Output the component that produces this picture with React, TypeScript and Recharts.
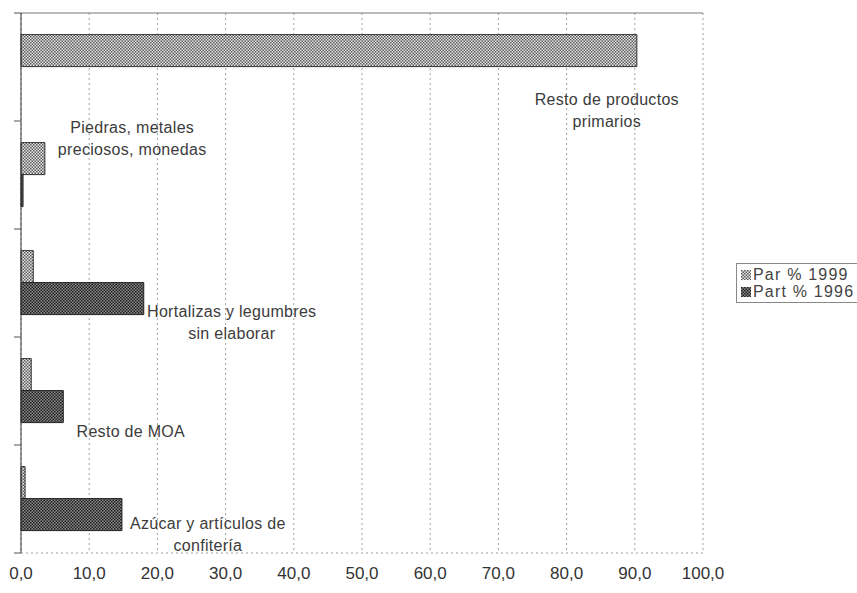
import { BarChart, Bar, XAxis, YAxis, CartesianGrid, LabelList, ReferenceLine } from 'recharts';

// categories, top to bottom
const categories = [
    'Resto de productos primarios',
    'Piedras, metales preciosos, monedas',
    'Hortalizas y legumbres sin elaborar',
    'Resto de MOA',
    'Azúcar y artículos de confitería',
];
const par1999 = [90.3, 3.5, 1.8, 1.5, 0.6];
const part1996 = [0, 0.3, 18.0, 6.2, 14.8];
const labelLines = [
    ['Resto de productos', 'primarios'],
    ['Piedras, metales', 'preciosos, monedas'],
    ['Hortalizas y legumbres', 'sin elaborar'],
    ['Resto de MOA'],
    ['Azúcar y artículos de', 'confitería'],
];
const xTicks = [0, 10, 20, 30, 40, 50, 60, 70, 80, 90, 100];

const data = categories.map((name, i) => ({ name, par: par1999[i], part: part1996[i] }));

// annotation placement: centre in axis units, baseline offset from top of the light bar
const notePlace = [
    { at: 85.9, dy: 70 },
    { at: 16.3, dy: -10 },
    { at: 30.9, dy: 66 },
    { at: 16.1, dy: 78 },
    { at: 27.4, dy: 62 },
];

const font = '"Liberation Sans", Arial, sans-serif';

const renderNote = (props: any) => {
    const { x, y, width, value } = props;
    const i = categories.indexOf(value);
    if (i < 0) return null;
    const p = notePlace[i];
    const cx = x + (p.at * width) / par1999[i];
    return (
        <text x={cx} y={y + p.dy} textAnchor="middle" fill="#3c3c3c" fontSize={16} letterSpacing={0.3} fontFamily={font}>
            {labelLines[i].map((line, k) => (
                <tspan key={k} x={cx} dy={k === 0 ? 0 : 22}>{line}</tspan>
            ))}
        </text>
    );
};

// tick marks sit on the category boundaries, not the band centres
const EdgeTick = (props: any) => {
    const { x, y, payload, index } = props;
    const half = payload && payload.offset ? payload.offset : 54;
    return (
        <g>
            <line x1={x - 7} x2={x} y1={y - half} y2={y - half} stroke="#555" />
            {index === categories.length - 1 && <line x1={x - 7} x2={x} y1={y + half} y2={y + half} stroke="#555" />}
        </g>
    );
};

export default function App() {
    return (
        <div style={{ position: 'absolute', left: 0, top: 0, width: 857, height: 593, background: '#fff', fontFamily: font }}>
            <BarChart
                width={857}
                height={593}
                data={data}
                layout="vertical"
                margin={{ top: 13, right: 154, bottom: 0, left: 20 }}
                barCategoryGap="20%"
                barGap={0}
            >
                <defs>
                    <pattern id="parPat" width="3" height="3" patternUnits="userSpaceOnUse">
                        <rect width="3" height="3" fill="#e6e6e6" />
                        <rect width="1.5" height="1.5" fill="#5a5a5a" />
                        <rect x="1.5" y="1.5" width="1.5" height="1.5" fill="#5a5a5a" />
                    </pattern>
                    <pattern id="partPat" width="3" height="3" patternUnits="userSpaceOnUse">
                        <rect width="3" height="3" fill="#8a8a8a" />
                        <rect width="1.5" height="1.5" fill="#1e1e1e" />
                        <rect x="1.5" y="1.5" width="1.5" height="1.5" fill="#1e1e1e" />
                    </pattern>
                </defs>
                <CartesianGrid horizontal={false} stroke="#a0a0a0" strokeDasharray="2 3" />
                <XAxis
                    type="number"
                    domain={[0, 100]}
                    ticks={xTicks}
                    axisLine={false}
                    tickLine={false}
                    height={40}
                    tickMargin={8}
                    tickFormatter={(v) => Number(v).toFixed(1).replace('.', ',')}
                    tick={{ fontSize: 17, fill: '#333', fontFamily: font }}
                />
                <YAxis
                    type="category"
                    dataKey="name"
                    width={1}
                    tickLine={false}
                    tickSize={0}
                    tickMargin={0}
                    axisLine={{ stroke: '#333' }}
                    tick={<EdgeTick />}
                    interval={0}
                />
                <ReferenceLine y={categories[0]} position="start" stroke="#777" />
                <ReferenceLine y={categories[categories.length - 1]} position="end" stroke="#a0a0a0" strokeDasharray="2 3" />
                <Bar dataKey="par" name="Par % 1999" fill="url(#parPat)" stroke="#333" strokeWidth={1} isAnimationActive={false}>
                    <LabelList dataKey="name" content={renderNote} />
                </Bar>
                <Bar dataKey="part" name="Part % 1996" fill="url(#partPat)" stroke="#222" strokeWidth={1} isAnimationActive={false} />
            </BarChart>
            <div style={{ position: 'absolute', left: 736, top: 263, width: 130, border: '1px solid #888', padding: '2px 0 2px 4px', fontSize: 16, letterSpacing: 1.2, color: '#444', lineHeight: '17px' }}>
                {[['parPat', 'Par % 1999'], ['partPat', 'Part % 1996']].map(([pat, text]) => (
                    <div key={pat} style={{ display: 'flex', alignItems: 'center', gap: 2 }}>
                        <svg width={10} height={10}><rect width={10} height={10} fill={`url(#${pat})`} /></svg>
                        <span>{text}</span>
                    </div>
                ))}
            </div>
        </div>
    );
}
